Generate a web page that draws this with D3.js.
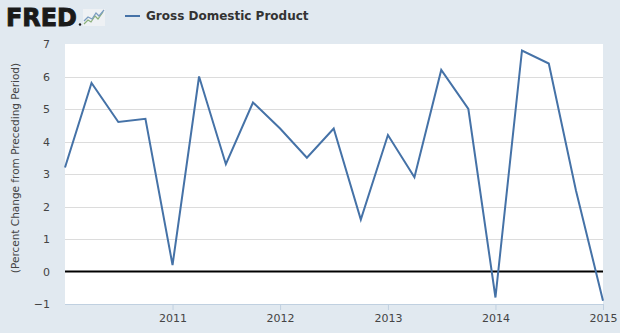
<!DOCTYPE html>
<html><head><meta charset="utf-8">
<script src="https://cdn.jsdelivr.net/npm/d3@7"></script>
<style>
html,body{margin:0;padding:0;background:#e1e9f0;}
svg{display:block;}
</style></head>
<body>
<svg id="chart" width="620" height="333"></svg>
<script>
const quarters = ["2010-01-01","2010-04-01","2010-07-01","2010-10-01",
  "2011-01-01","2011-04-01","2011-07-01","2011-10-01",
  "2012-01-01","2012-04-01","2012-07-01","2012-10-01",
  "2013-01-01","2013-04-01","2013-07-01","2013-10-01",
  "2014-01-01","2014-04-01","2014-07-01","2014-10-01","2015-01-01"];
const gdpValues = [3.2,5.8,4.6,4.7,0.2,6.0,3.3,5.2,4.4,3.5,4.4,1.6,4.2,2.9,6.2,5.0,-0.8,6.8,6.4,2.5,-0.9];
const yTicks = [-1,0,1,2,3,4,5,6,7];
const xTickYears = ["2011","2012","2013","2014","2015"];
const seriesName = "Gross Domestic Product";
const yTitle = "(Percent Change from Preceding Period)";

const parse = d3.timeParse("%Y-%m-%d");
const data = quarters.map((q,i)=>({date:parse(q), value:gdpValues[i]}));

const svg = d3.select("#chart");
const W = 620, H = 333;
const m = {left:65, right:17, top:44, bottom:29};
const pw = W - m.left - m.right, ph = H - m.top - m.bottom;

svg.append("rect").attr("width",W).attr("height",H).attr("fill","#e1e9f0");

const x = d3.scaleTime().domain([parse("2010-01-01"), parse("2015-01-01")]).range([m.left, m.left+pw]);
const y = d3.scaleLinear().domain([-1,7]).range([m.top+ph, m.top]);

// plot background
svg.append("rect").attr("x",m.left).attr("y",m.top).attr("width",pw).attr("height",ph).attr("fill","#ffffff");

// grid lines
svg.append("g").selectAll("line").data(yTicks.filter(t=>t!==0 && t!==-1 && t!==7)).join("line")
  .attr("x1",m.left).attr("x2",m.left+pw)
  .attr("y1",d=>Math.round(y(d))+0.5).attr("y2",d=>Math.round(y(d))+0.5)
  .attr("stroke","#dcdcdc").attr("stroke-width",1);

// y axis labels
const yAxis = d3.axisLeft(y).tickValues(yTicks).tickSize(0).tickPadding(15).tickFormat(d3.format("d"));
const yg = svg.append("g").attr("transform",`translate(${m.left},0)`).call(yAxis);
yg.select(".domain").remove();
yg.selectAll("text").attr("font-family","'DejaVu Sans', Verdana, sans-serif").attr("font-size","11px").attr("fill","#444");

// x axis
const xAxis = d3.axisBottom(x).tickValues(xTickYears.map(yy=>parse(yy+"-01-01"))).tickSize(6).tickPadding(4).tickFormat(d3.timeFormat("%Y"));
const xg = svg.append("g").attr("transform",`translate(0,${m.top+ph})`).call(xAxis);
xg.select(".domain").attr("stroke","#c0d0e0").attr("d",`M${m.left},0.5H${m.left+pw}`);
xg.selectAll(".tick line").attr("stroke","#c0d0e0");
xg.selectAll("text").attr("font-family","'DejaVu Sans', Verdana, sans-serif").attr("font-size","11px").attr("fill","#444");

// zero line
svg.append("line").attr("x1",m.left).attr("x2",m.left+pw).attr("y1",y(0)).attr("y2",y(0))
  .attr("stroke","#000").attr("stroke-width",2);

// series line
const line = d3.line().x(d=>x(d.date)).y(d=>y(d.value));
svg.append("path").datum(data).attr("d",line).attr("fill","none")
  .attr("stroke","#4572a7").attr("stroke-width",2).attr("stroke-linejoin","miter");

// y title
svg.append("text").attr("transform",`translate(19,168) rotate(-90)`)
  .attr("text-anchor","middle").attr("font-family","'DejaVu Sans', Verdana, sans-serif")
  .attr("font-size","10.5px").attr("fill","#444").text(yTitle);

// FRED logo
svg.append("text").attr("x",6).attr("y",26).attr("font-family","'DejaVu Sans', Arial, sans-serif")
  .attr("font-weight","900").attr("font-size","24px").attr("fill","#1a1a1a")
  .attr("stroke","#1a1a1a").attr("stroke-width",0.9)
  .attr("textLength",71).attr("lengthAdjust","spacingAndGlyphs").text("FRED");
svg.append("circle").attr("cx",80).attr("cy",24.5).attr("r",1.2).attr("fill","#1a1a1a");
const icon = svg.append("g").attr("transform","translate(83,9)");
icon.append("rect").attr("width",22).attr("height",17).attr("fill","#eef1f4");
icon.append("path").attr("d","M1,15 L5,11 L8,13 L12,7 L15,10 L20,3").attr("fill","none").attr("stroke","#8ab07a").attr("stroke-width",1.2);
icon.append("path").attr("d","M1,12 L5,8 L9,10 L13,4 L16,7 L21,1").attr("fill","none").attr("stroke","#7a9cc0").attr("stroke-width",1.2);

// legend
svg.append("line").attr("x1",125).attr("x2",140).attr("y1",16).attr("y2",16).attr("stroke","#4572a7").attr("stroke-width",2);
svg.append("text").attr("x",146).attr("y",20).attr("font-family","'DejaVu Sans', Verdana, sans-serif")
  .attr("font-weight","bold").attr("font-size","12px").attr("fill","#333").text(seriesName);
</script>
</body></html>
